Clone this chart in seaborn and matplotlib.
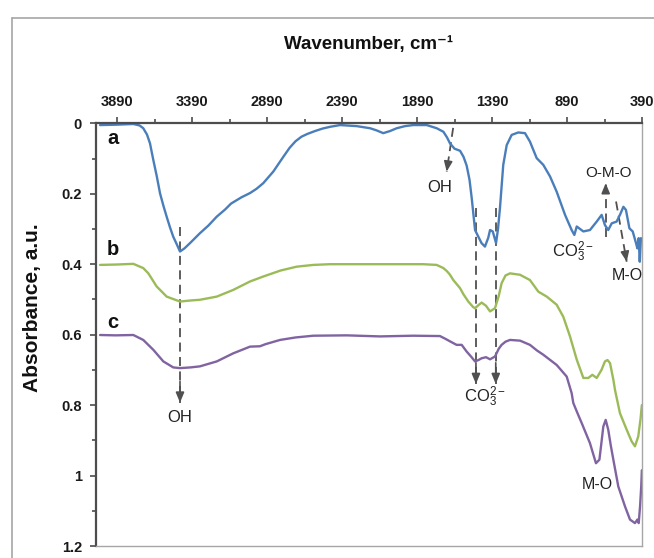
import numpy as np
import pandas as pd
import matplotlib
matplotlib.use("Agg")
import matplotlib.pyplot as plt
from matplotlib.lines import Line2D
from matplotlib.ticker import MultipleLocator, FixedLocator
import seaborn as sns

# ---------------- data ----------------
wn_a = [4003, 3900, 3781, 3740, 3715, 3690, 3670, 3648, 3625, 3603, 3580, 3559, 3537,
        3515, 3490, 3470, 3440, 3403, 3370, 3337, 3280, 3225, 3170, 3130, 3060, 3003,
        2960, 2915, 2848, 2781, 2740, 2700, 2660, 2620, 2570, 2520, 2470, 2403, 2292,
        2203, 2160, 2115, 2070, 2025, 1970, 1915, 1825, 1759, 1714, 1690, 1670, 1640,
        1603, 1580, 1559, 1540, 1525, 1503, 1481, 1460, 1437, 1415, 1403, 1385, 1363,
        1350, 1337, 1315, 1292, 1259, 1215, 1170, 1137, 1092, 1048, 1003, 959, 903,
        859, 841, 825, 781, 737, 692, 659, 637, 615, 592, 559, 537, 514, 497, 474,
        452, 430, 421, 412, 405, 397, 391]
abs_a = [0.005, 0.004, 0.002, 0.006, 0.014, 0.032, 0.057, 0.104, 0.150, 0.199, 0.235,
         0.265, 0.295, 0.322, 0.345, 0.364, 0.355, 0.340, 0.326, 0.312, 0.290, 0.265,
         0.245, 0.228, 0.210, 0.198, 0.186, 0.170, 0.137, 0.095, 0.070, 0.051, 0.038,
         0.030, 0.022, 0.015, 0.010, 0.005, 0.008, 0.014, 0.020, 0.028, 0.022, 0.014,
         0.008, 0.005, 0.005, 0.014, 0.024, 0.040, 0.057, 0.072, 0.078, 0.095, 0.120,
         0.160, 0.213, 0.303, 0.322, 0.340, 0.350, 0.325, 0.303, 0.307, 0.340, 0.300,
         0.241, 0.118, 0.062, 0.033, 0.026, 0.028, 0.052, 0.099, 0.118, 0.151, 0.194,
         0.260, 0.303, 0.317, 0.293, 0.307, 0.303, 0.279, 0.260, 0.289, 0.303, 0.284,
         0.279, 0.260, 0.237, 0.246, 0.298, 0.307, 0.340, 0.355, 0.326, 0.393, 0.326,
         0.330]

wn_b = [4003, 3900, 3781, 3715, 3681, 3626, 3559, 3470, 3400, 3337, 3225, 3115, 3003,
        2915, 2800, 2692, 2580, 2470, 2248, 2025, 1850, 1759, 1714, 1690, 1670, 1648,
        1603, 1581, 1548, 1515, 1503, 1480, 1459, 1430, 1403, 1370, 1345, 1326, 1300,
        1270, 1203, 1137, 1081, 1025, 959, 915, 870, 825, 781, 748, 721, 692, 660, 637,
        620, 603, 581, 570, 537, 492, 459, 437, 415, 400, 391]
abs_b = [0.402, 0.401, 0.399, 0.411, 0.426, 0.463, 0.492, 0.506, 0.503, 0.501, 0.492,
         0.473, 0.449, 0.435, 0.418, 0.407, 0.402, 0.400, 0.400, 0.400, 0.400, 0.402,
         0.411, 0.420, 0.430, 0.445, 0.468, 0.485, 0.506, 0.522, 0.525, 0.516, 0.509,
         0.518, 0.534, 0.525, 0.490, 0.454, 0.432, 0.426, 0.430, 0.445, 0.478, 0.492,
         0.515, 0.549, 0.605, 0.671, 0.723, 0.723, 0.714, 0.723, 0.700, 0.676, 0.672,
         0.681, 0.728, 0.757, 0.823, 0.870, 0.903, 0.917, 0.889, 0.840, 0.800]

wn_c = [4003, 3900, 3781, 3715, 3648, 3581, 3515, 3470, 3400, 3337, 3225, 3115, 3003,
        2937, 2900, 2803, 2700, 2581, 2359, 2137, 1915, 1737, 1700, 1670, 1626, 1592,
        1559, 1530, 1503, 1480, 1459, 1430, 1403, 1370, 1345, 1326, 1300, 1270, 1203,
        1137, 1090, 1048, 959, 892, 859, 848, 820, 792, 737, 697, 674, 660, 648, 632,
        615, 598, 581, 548, 503, 470, 437, 421, 412, 403, 395, 391]
abs_c = [0.601, 0.602, 0.601, 0.615, 0.643, 0.676, 0.693, 0.695, 0.693, 0.690, 0.676,
         0.653, 0.634, 0.633, 0.627, 0.615, 0.608, 0.603, 0.602, 0.605, 0.603, 0.604,
         0.612, 0.619, 0.629, 0.629, 0.648, 0.662, 0.676, 0.672, 0.667, 0.664, 0.670,
         0.662, 0.640, 0.629, 0.620, 0.615, 0.617, 0.629, 0.645, 0.657, 0.686, 0.719,
         0.766, 0.794, 0.823, 0.851, 0.908, 0.965, 0.955, 0.905, 0.861, 0.842, 0.870,
         0.915, 0.955, 1.031, 1.088, 1.125, 1.135, 1.125, 1.135, 1.088, 1.030, 0.985]

curve_labels = ["a", "b", "c"]
colors = ["#4A7EBB", "#9BBB59", "#8064A2"]
x_major = [3890, 3390, 2890, 2390, 1890, 1390, 890, 390]
y_major = [0, 0.2, 0.4, 0.6, 0.8, 1.0, 1.2]
y_ticklabels = ["0", "0.2", "0.4", "0.6", "0.8", "1", "1.2"]

# ---------------- style ----------------
sns.set_style("white")
plt.rcParams["font.family"] = ["Liberation Sans", "DejaVu Sans"]
plt.rcParams["mathtext.fontset"] = "custom"
plt.rcParams["mathtext.rm"] = "Liberation Sans"
plt.rcParams["mathtext.it"] = "Liberation Sans:italic"
plt.rcParams["mathtext.bf"] = "Liberation Sans:bold"

W, H = 654, 558
fig = plt.figure(figsize=(W / 100, H / 100), dpi=100)
L, R, T, B = 96, 642, 123.3, 546
ax = fig.add_axes([L / W, 1 - B / H, (R - L) / W, (B - T) / H])

for wn, ab, col in zip([wn_a, wn_b, wn_c], [abs_a, abs_b, abs_c], colors):
    df = pd.DataFrame({"wn": wn, "abs": ab})
    sns.lineplot(data=df, x="wn", y="abs", ax=ax, color=col, lw=1.7,
                 estimator=None, sort=False)

ax.set_xlim(4030, 390)
ax.set_ylim(1.2, 0)
ax.set_xlabel("")
ax.set_ylabel("")

ax.xaxis.tick_top()
ax.xaxis.set_major_locator(FixedLocator(x_major))
ax.xaxis.set_minor_locator(FixedLocator([v + 250 for v in x_major if v + 250 < 4030]))
ax.set_xticklabels([str(v) for v in x_major])
ax.yaxis.set_major_locator(FixedLocator(y_major))
ax.yaxis.set_minor_locator(MultipleLocator(0.1))
ax.set_yticklabels(y_ticklabels)

dark = "#4D4D4D"
for s in ["left", "top"]:
    ax.spines[s].set_color(dark)
    ax.spines[s].set_linewidth(1.6)
for s in ["right", "bottom"]:
    ax.spines[s].set_color("#A6A6A6")
    ax.spines[s].set_linewidth(1.0)

ax.tick_params(axis="both", which="both", direction="out", color=dark, width=1.2)
ax.tick_params(axis="both", which="major", length=4)
ax.tick_params(axis="both", which="minor", length=3)
ax.tick_params(axis="x", which="both", top=True, bottom=False, pad=6)
ax.tick_params(axis="y", which="both", left=True, right=False, pad=6)
for lab in ax.get_xticklabels() + ax.get_yticklabels():
    lab.set_fontsize(10.5)
    lab.set_fontweight("bold")
    lab.set_color("#1A1A1A")

# titles
fig.text(369 / W, 1 - 45 / H, "Wavenumber, cm⁻¹", ha="center", va="center",
         fontsize=13.5, fontweight="bold", color="#111111")
fig.text(33 / W, 1 - 308 / H, "Absorbance, a.u.", ha="center", va="center",
         rotation=90, fontsize=15, fontweight="bold", color="#111111")

# curve labels
for lab, yv in zip(curve_labels, [0.043, 0.358, 0.565]):
    ax.text(3917, yv, lab, ha="center", va="center", fontsize=14.5,
            fontweight="bold", color="#111111")

# dashed arrows
acol = "#505050"


def dashed_arrow(x0, y0, x1, y1):
    ax.plot([x0, x1], [y0, y1], ls=(0, (5, 3)), color=acol, lw=1.3, zorder=1)
    fx = x1 - (x1 - x0) * 0.12
    fy = y1 - (y1 - y0) * 0.12
    ax.annotate("", xy=(x1, y1), xytext=(fx, fy),
                arrowprops=dict(arrowstyle="-|>,head_length=0.6,head_width=0.25",
                                color=acol, lw=1.2, shrinkA=0, shrinkB=0))


dashed_arrow(3470, 0.294, 3470, 0.793)
dashed_arrow(1649, 0.013, 1692, 0.137)
dashed_arrow(1497, 0.240, 1497, 0.740)
dashed_arrow(1365, 0.240, 1365, 0.740)
dashed_arrow(632, 0.322, 632, 0.170)
dashed_arrow(563, 0.222, 492, 0.393)

tcol = "#222222"
fs = 12
ax.text(3470, 0.835, "OH", ha="center", va="center", fontsize=fs, color=tcol)
ax.text(1737, 0.183, "OH", ha="center", va="center", fontsize=fs, color=tcol)
ax.text(1437, 0.776, "CO$_3^{2-}$", ha="center", va="center", fontsize=fs, color=tcol)
ax.text(853, 0.364, "CO$_3^{2-}$", ha="center", va="center", fontsize=fs, color=tcol)
ax.text(610, 0.140, "O-M-O", ha="center", va="center", fontsize=11, color=tcol)
ax.text(490, 0.432, "M-O", ha="center", va="center", fontsize=11.5, color=tcol)
ax.text(687, 1.026, "M-O", ha="center", va="center", fontsize=11.5, color=tcol)

# outer chart border (left and top visible)
bcol = "#A6A6A6"
fig.add_artist(Line2D([12 / W, 12 / W], [0, 1 - 18 / H], transform=fig.transFigure,
                      color=bcol, lw=1.2))
fig.add_artist(Line2D([12 / W, 1], [1 - 18 / H, 1 - 18 / H], transform=fig.transFigure,
                      color=bcol, lw=1.2))

fig.savefig("out.png", dpi=100)
